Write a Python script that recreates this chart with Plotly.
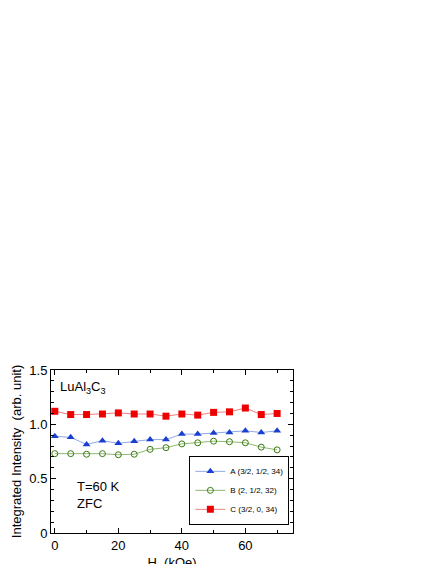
import plotly.graph_objects as go

H = [0, 5, 10, 15, 20, 25, 30, 35, 40, 45, 50, 55, 60, 65, 70]
A = [0.89, 0.88, 0.815, 0.85, 0.825, 0.845, 0.86, 0.86, 0.91, 0.91, 0.92, 0.925, 0.94, 0.925, 0.94]
B = [0.73, 0.73, 0.725, 0.73, 0.72, 0.725, 0.77, 0.785, 0.82, 0.83, 0.845, 0.84, 0.83, 0.79, 0.765]
C = [1.12, 1.09, 1.09, 1.095, 1.105, 1.095, 1.095, 1.075, 1.095, 1.085, 1.11, 1.115, 1.15, 1.09, 1.10]

fig = go.Figure()
fig.add_trace(go.Scatter(x=H, y=A, mode='lines+markers', name='A (3/2, 1/2, 34)',
	line=dict(color='#8fa8e8', width=1), marker=dict(symbol='triangle-up', size=7, color='#1a3fd0')))
fig.add_trace(go.Scatter(x=H, y=B, mode='lines+markers', name='B (2, 1/2, 32)',
	line=dict(color='#8fb870', width=1), marker=dict(symbol='circle-open', size=6, color='#3a7a10', line=dict(width=1))))
fig.add_trace(go.Scatter(x=H, y=C, mode='lines+markers', name='C (3/2, 0, 34)',
	line=dict(color='#f08080', width=1), marker=dict(symbol='square', size=7, color='#ee0000')))

ax = dict(showline=True, linecolor='black', linewidth=1, mirror='ticks', ticks='inside',
	ticklen=5, tickcolor='black', showgrid=False, zeroline=False, automargin=False,
	tickfont=dict(family='Liberation Sans, Arial', size=13, color='black'))

fig.update_layout(
	width=436, height=564, plot_bgcolor='white', paper_bgcolor='white',
	margin=dict(l=43, r=151, t=362, b=39),
	font=dict(family='Liberation Sans, Arial', size=12, color='black'),
	xaxis=dict(ax, range=[-1.2, 75], tickvals=[0, 20, 40, 60],
		minor=dict(tickvals=list(range(10, 75, 20)), ticks='inside', ticklen=3, tickcolor='black'),
		title=dict(text='H  (kOe)', standoff=6, font=dict(size=13))),
	yaxis=dict(ax, range=[0, 1.5], tickvals=[0, 0.5, 1.0, 1.5], ticktext=['0', '0.5', '1.0', '1.5'],
		minor=dict(tickvals=[0.1, 0.2, 0.3, 0.4, 0.6, 0.7, 0.8, 0.9, 1.1, 1.2, 1.3, 1.4], ticks='inside', ticklen=3, tickcolor='black'),
		title=dict(text='Integrated Intensity  (arb. unit)', standoff=4, font=dict(size=13))),
	legend=dict(x=0.985, y=0.05, xanchor='right', yanchor='bottom', bordercolor='black', borderwidth=1,
		bgcolor='white', font=dict(size=8), tracegroupgap=0, itemwidth=30),
	showlegend=True,
	annotations=[
		dict(text='LuAl<sub>3</sub>C<sub>3</sub>', x=0.03, y=0.96, xref='paper', yref='paper', xanchor='left', yanchor='top', showarrow=False, font=dict(size=13)),
		dict(text='T=60 K<br>ZFC', x=0.1, y=0.12, xref='paper', yref='paper', xanchor='left', yanchor='bottom', showarrow=False, align='left', font=dict(size=13)),
	],
)
fig.write_html("out.html")
